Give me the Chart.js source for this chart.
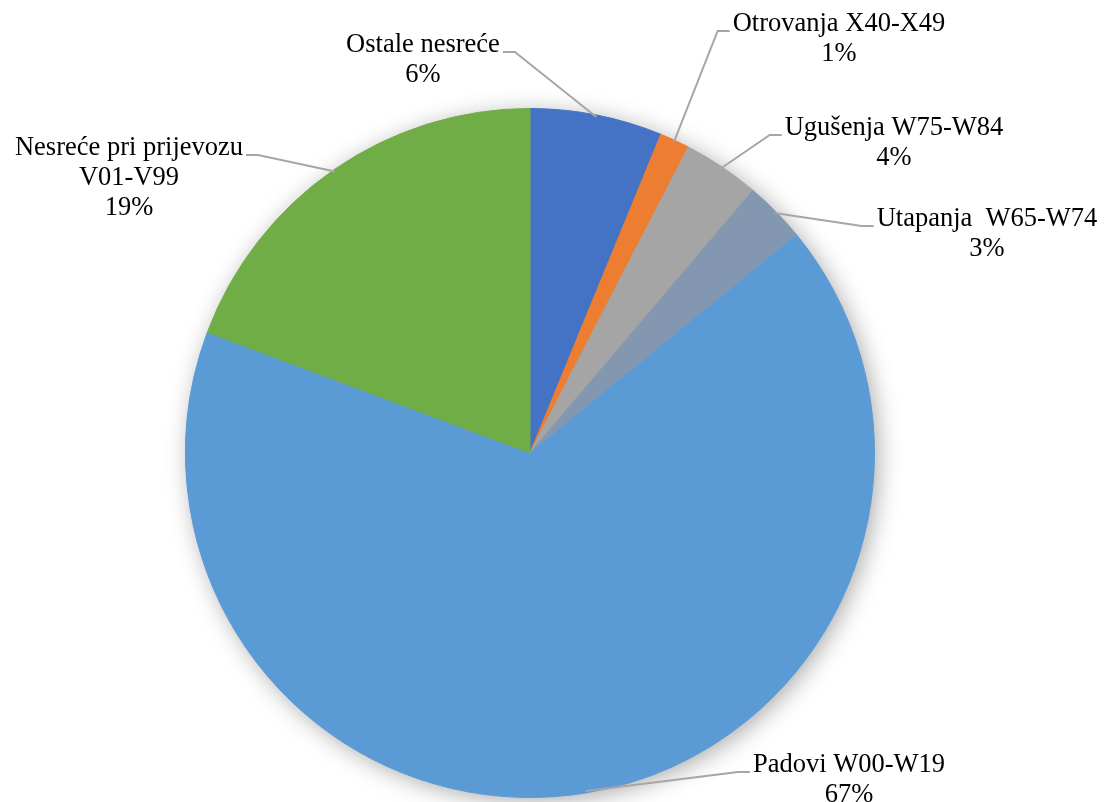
<!DOCTYPE html>
<html>
<head>
<meta charset="utf-8">
<script src="https://cdn.jsdelivr.net/npm/chart.js@4/dist/chart.umd.min.js"></script>
<style>
  html, body { margin: 0; padding: 0; background: #ffffff; }
  #wrap { width: 1105px; height: 802px; }
</style>
</head>
<body>
<div id="wrap"><canvas id="c" width="1105" height="802"></canvas></div>
<script>
// ---- data ----
const categories = [
  'Ostale nesreće',
  'Otrovanja X40-X49',
  'Ugušenja W75-W84',
  'Utapanja  W65-W74',
  'Padovi W00-W19',
  'Nesreće pri prijevozu\nV01-V99'
];
const values = [6.2, 1.4, 3.6, 2.9, 66.6, 19.3];
const colors = ['#4472C4', '#ED7D31', '#A5A5A5', '#8497B0', '#5B9BD5', '#70AD47'];

// ---- label layout (text block centre, first line y, side the leader attaches) ----
const labelBoxes = [
  { x: 423, y: 45,  side: 'right' },
  { x: 839, y: 24,  side: 'left'  },
  { x: 894, y: 128, side: 'left'  },
  { x: 987, y: 219, side: 'left'  },
  { x: 849, y: 765, side: 'left'  },
  { x: 129, y: 148, side: 'right' }
];

const FONT = '26.5px "Liberation Serif", "Times New Roman", serif';
const LINE_H = 30;

const shadowPlugin = {
  id: 'pieShadow',
  beforeDatasetsDraw(chart) {
    const arc = chart.getDatasetMeta(0).data[0];
    if (!arc) return;
    const ctx = chart.ctx;
    ctx.save();
    ctx.shadowColor = 'rgba(0,0,0,0.35)';
    ctx.shadowBlur = 24;
    ctx.shadowOffsetX = 4;
    ctx.shadowOffsetY = 4;
    ctx.fillStyle = '#ffffff';
    ctx.beginPath();
    ctx.arc(arc.x, arc.y, arc.outerRadius - 1, 0, Math.PI * 2);
    ctx.fill();
    ctx.restore();
  }
};

const labelPlugin = {
  id: 'outLabels',
  afterDatasetsDraw(chart) {
    const ctx = chart.ctx;
    const meta = chart.getDatasetMeta(0);
    const data = chart.data.datasets[0].data;
    const total = data.reduce((a, b) => a + b, 0);
    ctx.save();
    ctx.font = FONT;
    ctx.textAlign = 'center';
    ctx.textBaseline = 'middle';
    meta.data.forEach((arc, i) => {
      const box = labelBoxes[i];
      const lines = chart.data.labels[i].split('\n');
      lines.push(Math.round(data[i] / total * 100) + '%');
      const mid = (arc.startAngle + arc.endAngle) / 2;
      const px = arc.x + Math.cos(mid) * (arc.outerRadius - 2);
      const py = arc.y + Math.sin(mid) * (arc.outerRadius - 2);
      const w = ctx.measureText(lines[0]).width;
      const ly = box.y + 7;
      let edge, elbow;
      if (box.side === 'left') { edge = box.x - w / 2 - 3; elbow = edge - 12; }
      else { edge = box.x + w / 2 + 3; elbow = edge + 12; }
      ctx.strokeStyle = '#A6A6A6';
      ctx.lineWidth = 2;
      ctx.beginPath();
      ctx.moveTo(px, py);
      ctx.lineTo(elbow, ly);
      ctx.lineTo(edge, ly);
      ctx.stroke();
      ctx.fillStyle = '#000000';
      lines.forEach((t, k) => ctx.fillText(t, box.x, box.y + k * LINE_H));
    });
    ctx.restore();
  }
};

new Chart(document.getElementById('c'), {
  type: 'pie',
  data: {
    labels: categories,
    datasets: [{
      data: values,
      backgroundColor: colors,
      borderColor: colors,
      borderWidth: 1
    }]
  },
  options: {
    responsive: false,
    animation: false,
    layout: { padding: { top: 108, bottom: 4, left: 185, right: 230 } },
    plugins: { legend: { display: false }, tooltip: { enabled: false } }
  },
  plugins: [shadowPlugin, labelPlugin]
});
</script>
</body>
</html>
